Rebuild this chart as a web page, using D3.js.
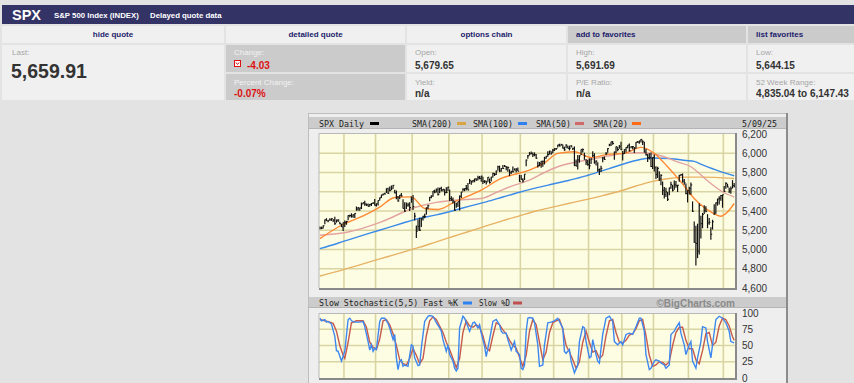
<!DOCTYPE html>
<html>
<head>
<meta charset="utf-8">
<title>SPX Daily</title>
<script src="https://d3js.org/d3.v7.min.js"></script>
<style>
	body {margin: 0; background: #e3e3e3; overflow: hidden;}
	svg {display: block;}
	.mono {font-family: "DejaVu Sans Mono", monospace; font-size: 8.3px; fill: #222;}
	.arial {font-family: "Liberation Sans", Arial, sans-serif;}
</style>
</head>
<body>
<div id="chart"></div>
<script>
// ---- quote header data ----
var symbol = "SPX";
var indexName = "S&P 500 Index (INDEX)";
var delayNote = "Delayed quote data";
var tabNames = ["hide quote", "detailed quote", "options chain", "add to favorites", "list favorites"];
var lastLabel = "Last:";
var lastValue = "5,659.91";
var fieldLabels = ["Change:", "Percent Change:", "Open:", "Yield:", "High:", "P/E Ratio:", "Low:", "52 Week Range:"];
var fieldValues = ["-4.03", "-0.07%", "5,679.65", "n/a", "5,691.69", "n/a", "5,644.15", "4,835.04 to 6,147.43"];

// ---- chart data: trading days per month, May 10 2024 .. May 9 2025 ----
var months = ["May", "Jun", "Jul", "Aug", "Sep", "Oct", "Nov", "Dec", "Jan", "Feb", "Mar", "Apr", "May"];
var monthDays = [15, 19, 22, 22, 20, 23, 20, 21, 20, 19, 21, 21, 7];
var lastDate = "5/09/25";

var closes = [
	5223,5221,5247,5308,5297,5303,5308,5321,5307,5268,5305,5306,5267,5235,5278,
	5283,5291,5354,5353,5347,5361,5375,5421,5434,5432,5473,5487,5473,5465,5448,5469,5478,5483,5460,
	5475,5509,5537,5567,5573,5577,5634,5585,5615,5631,5667,5588,5545,5505,5564,5556,5427,5399,5459,5464,5436,5522,
	5447,5347,5186,5240,5200,5319,5344,5344,5434,5455,5543,5554,5608,5597,5621,5571,5635,5617,5626,5592,5592,5648,
	5529,5520,5503,5408,5471,5496,5554,5596,5626,5633,5635,5618,5714,5703,5719,5733,5722,5745,5738,5762,
	5709,5710,5700,5751,5696,5751,5792,5780,5815,5860,5815,5842,5841,5865,5854,5851,5797,5810,5808,5824,5833,5814,5705,
	5729,5713,5783,5929,5973,5996,6001,5984,5985,5949,5871,5894,5917,5917,5949,5969,5987,6022,5999,6032,
	6047,6050,6086,6075,6090,6053,6035,6084,6051,6051,6074,6051,5872,5867,5931,5974,6040,6038,5971,5907,5882,
	5869,5942,5975,5909,5918,5827,5836,5843,5950,5937,5997,6049,6086,6119,6101,6012,6068,6039,6071,6041,
	5995,6038,6061,6084,6026,6066,6068,6052,6115,6115,6130,6144,6118,6013,5983,5955,5956,5862,5955,
	5850,5778,5843,5739,5770,5615,5572,5599,5522,5639,5675,5615,5675,5663,5668,5768,5777,5712,5693,5581,5612,
	5633,5671,5397,5074,5062,4983,5457,5268,5363,5406,5397,5276,5283,5158,5288,5376,5485,5525,5529,5561,5569,
	5604,5687,5650,5607,5631,5664,5660
];
var highs = [
	5239,5238,5250,5311,5325,5305,5325,5324,5315,5341,5311,5313,5289,5268,5280,
	5302,5298,5355,5362,5376,5366,5376,5447,5441,5432,5488,5488,5506,5478,5479,5472,5483,5490,5524,
	5479,5509,5539,5570,5583,5590,5635,5642,5655,5666,5669,5622,5614,5557,5567,5586,5523,5492,5488,5487,5490,5551,
	5567,5383,5250,5312,5330,5328,5350,5371,5436,5464,5545,5564,5608,5620,5633,5643,5642,5651,5628,5627,5646,5651,
	5623,5552,5540,5502,5485,5497,5560,5600,5637,5637,5671,5690,5734,5716,5723,5736,5741,5767,5764,5765,
	5757,5720,5715,5753,5739,5757,5797,5795,5822,5871,5871,5846,5879,5878,5867,5863,5834,5817,5862,5843,5847,5851,5776,
	5773,5741,5783,5936,5983,6012,6018,6009,6009,5993,5915,5909,5920,5921,5963,5972,6020,6026,6020,6044,
	6053,6052,6089,6099,6099,6091,6068,6093,6079,6079,6085,6057,6071,5935,5982,5978,6040,6049,6006,5940,5929,
	5949,5949,6022,6001,5928,5906,5838,5871,5961,5965,6014,6051,6100,6119,6128,6017,6070,6065,6087,6120,
	6023,6042,6062,6084,6101,6074,6076,6064,6116,6127,6130,6147,6134,6119,6044,5992,6000,6009,5959,
	5987,5865,5860,5812,5783,5706,5649,5642,5597,5645,5703,5669,5716,5711,5672,5776,5784,5790,5732,5685,5615,
	5651,5696,5500,5292,5246,5268,5481,5350,5381,5459,5450,5367,5328,5232,5309,5470,5489,5528,5553,5565,5570,
	5659,5700,5683,5642,5655,5721,5692
];
var lows = [
	5209,5211,5218,5263,5296,5283,5302,5298,5287,5256,5279,5286,5262,5234,5191,
	5234,5257,5303,5335,5331,5331,5327,5403,5403,5403,5420,5471,5455,5452,5447,5446,5452,5474,5458,
	5446,5458,5509,5535,5562,5574,5586,5576,5603,5615,5632,5585,5523,5497,5523,5551,5426,5390,5422,5445,5400,5486,
	5411,5302,5119,5194,5193,5233,5302,5325,5362,5418,5502,5532,5547,5585,5592,5561,5585,5602,5603,5561,5585,5604,
	5505,5504,5479,5403,5434,5442,5406,5535,5602,5604,5614,5615,5681,5674,5695,5699,5715,5720,5730,5703,
	5681,5690,5675,5703,5685,5707,5749,5764,5775,5820,5804,5808,5840,5857,5824,5809,5762,5784,5800,5823,5800,5812,5703,
	5724,5697,5722,5864,5944,5976,5986,5960,5969,5942,5853,5866,5850,5860,5884,5943,5963,5986,5985,6003,
	6023,6034,6061,6071,6079,6049,6025,6052,6051,6029,6060,6035,5867,5866,5832,5902,5983,6007,5932,5879,5869,
	5835,5889,5961,5890,5874,5809,5773,5805,5907,5931,5978,6006,6074,6075,6089,5932,6000,6021,6047,6031,
	5924,5991,6008,6052,6019,6051,6042,6003,6050,6108,6100,6112,6086,6009,5977,5908,5934,5858,5837,
	5810,5733,5743,5711,5667,5565,5529,5546,5504,5563,5631,5603,5621,5641,5597,5705,5765,5695,5674,5573,5489,
	5571,5570,5390,5069,4835,4910,4949,5115,5221,5368,5387,5221,5256,5101,5207,5359,5372,5456,5468,5506,5434,
	5598,5630,5646,5586,5579,5635,5644
];

// moving averages: [trading day, value]
var sma200 = [[0,4724],[10,4770],[20,4820],[30,4872],[40,4922],[50,4972],[60,5024],[70,5080],[80,5135],[90,5190],[100,5245],[110,5300],[120,5350],[130,5400],[140,5440],[150,5480],[160,5518],[170,5560],[180,5605],[190,5660],[200,5708],[210,5738],[220,5752],[230,5752],[240,5747],[249,5738]];
var sma100 = [[0,5009],[10,5060],[20,5115],[30,5170],[40,5222],[50,5275],[57,5311],[70,5360],[81,5408],[90,5450],[100,5495],[110,5545],[120,5595],[130,5640],[140,5680],[150,5720],[160,5765],[170,5820],[180,5875],[190,5925],[200,5950],[210,5945],[220,5925],[225,5915],[230,5880],[240,5815],[249,5766]];
var sma50 = [[0,5148],[17,5182],[37,5287],[57,5436],[70,5490],[81,5512],[97,5530],[107,5600],[117,5669],[126,5721],[135,5800],[143,5860],[153,5905],[163,5936],[173,5970],[183,5999],[193,6005],[200,5995],[207,5964],[215,5910],[223,5860],[230,5760],[235,5686],[242,5600],[249,5545]];
var sma20 = [[0,5113],[13,5252],[27,5356],[36,5440],[45,5540],[55,5547],[63,5426],[71,5416],[81,5495],[97,5617],[109,5738],[119,5790],[126,5825],[135,5900],[143,5999],[153,6016],[163,5957],[173,5988],[183,5999],[193,6061],[201,5999],[209,5860],[217,5703],[225,5530],[235,5391],[241,5346],[245,5390],[249,5478]];

// slow stochastic (5,5)
var stochK = [[0,92],[1,88],[3,90],[4,86],[5,87],[7,83],[9,64],[10,42],[11,41],[13,26],[15,41],[17,90],[18,92],[19,88],[21,86],[24,86],[26,87],[27,79],[29,56],[30,43],[31,51],[32,41],[33,46],[34,44],[36,87],[37,92],[39,92],[41,84],[42,77],[44,59],[45,67],[46,31],[47,13],[48,26],[49,28],[50,18],[51,20],[53,18],[55,51],[56,49],[57,31],[59,19],[60,20],[61,46],[63,87],[65,95],[66,96],[68,95],[70,85],[72,77],[73,72],[74,59],[76,41],[77,51],[78,36],[80,26],[81,15],[82,11],[83,15],[84,77],[86,95],[87,92],[89,79],[90,72],[92,85],[93,86],[95,77],[96,82],[97,69],[99,49],[100,33],[101,46],[102,59],[104,87],[106,90],[108,82],[109,72],[110,69],[112,69],[113,59],[115,43],[117,56],[118,41],[120,36],[121,15],[122,13],[123,20],[124,72],[125,92],[126,93],[128,92],[129,85],[131,51],[132,18],[134,20],[135,51],[137,85],[139,86],[141,88],[143,92],[144,87],[146,77],[147,41],[148,38],[150,44],[151,26],[153,8],[155,20],[156,56],[158,79],[159,77],[160,56],[162,31],[163,33],[164,59],[166,36],[167,26],[168,23],[170,67],[172,92],[174,95],[176,87],[177,56],[179,51],[181,56],[182,51],[184,67],[186,69],[188,67],[190,79],[192,92],[193,92],[195,72],[196,36],[198,13],[199,15],[201,26],[202,28],[204,26],[205,23],[207,20],[208,15],[210,20],[211,67],[213,72],[214,77],[216,85],[217,69],[219,51],[220,36],[222,51],[223,56],[224,26],[226,15],[227,31],[229,56],[230,79],[232,77],[233,56],[235,31],[236,51],[238,90],[240,95],[242,92],[244,85],[246,72],[247,56],[249,54]];
var stochD = [[0,90],[3,88],[6,86],[8,84],[10,72],[12,50],[14,35],[15,30],[17,55],[19,85],[22,88],[26,88],[28,78],[30,55],[32,47],[34,44],[36,60],[38,88],[40,90],[42,82],[44,68],[46,50],[48,28],[50,22],[52,20],[54,30],[56,45],[58,35],[60,22],[62,30],[64,65],[66,88],[68,94],[70,90],[72,80],[74,70],[76,55],[78,44],[80,30],[82,16],[84,30],[86,70],[88,88],[90,80],[92,78],[94,82],[96,78],[98,65],[100,46],[102,42],[104,65],[106,85],[108,82],[110,74],[112,68],[114,58],[116,50],[118,46],[120,32],[122,18],[124,35],[126,72],[128,90],[130,82],[132,55],[134,28],[136,40],[138,70],[140,85],[142,88],[144,90],[146,75],[148,50],[150,40],[152,28],[154,15],[156,25],[158,55],[160,72],[162,55],[164,40],[166,42],[168,30],[170,35],[172,65],[174,88],[176,90],[178,70],[180,55],[182,54],[184,58],[186,66],[188,68],[190,76],[192,88],[194,90],[196,65],[198,35],[200,18],[202,20],[204,25],[206,24],[208,20],[210,25],[212,50],[214,70],[216,78],[218,78],[220,58],[222,45],[224,45],[226,28],[228,22],[230,42],[232,68],[234,70],[236,50],[238,55],[240,80],[242,92],[244,90],[246,80],[248,64],[249,58]];

var priceTicks = [6200, 6000, 5800, 5600, 5400, 5200, 5000, 4800, 4600];
var stochTicks = [100, 75, 50, 25, 0];

// ---------------------------------------------------------------
var svg = d3.select("#chart").append("svg")
	.attr("width", 854)
	.attr("height", 383);

svg.append("rect").attr("width", 854).attr("height", 383).style("fill", "#e3e3e3");

// title bar
svg.append("rect").attr("x", 2).attr("y", 5).attr("width", 852).attr("height", 19).style("fill", "#333366");
svg.append("text").attr("class", "arial").attr("x", 12).attr("y", 19.5)
	.style("font-size", "14.5px").style("font-weight", "bold").style("fill", "#fff").text(symbol);
svg.append("text").attr("class", "arial").attr("x", 54).attr("y", 17.5)
	.style("font-size", "7.8px").style("font-weight", "bold").style("fill", "#fff").text(indexName);
svg.append("text").attr("class", "arial").attr("x", 150).attr("y", 17.5)
	.style("font-size", "7.8px").style("font-weight", "bold").style("fill", "#fff").text(delayNote);

// tab row + quote cells
var cellX = [2, 226, 407, 568, 748];
var cellW = [222, 179, 159, 178, 106];
tabNames.forEach(function(t, i) {
	svg.append("rect").attr("x", cellX[i]).attr("y", 26).attr("width", cellW[i]).attr("height", 17)
		.style("fill", i < 3 ? "#f0f0f0" : "#cbcbcb");
	svg.append("text").attr("class", "arial")
		.attr("x", i < 3 ? cellX[i] + cellW[i] / 2 : cellX[i] + 8)
		.attr("y", 36.5)
		.attr("text-anchor", i < 3 ? "middle" : "start")
		.style("font-size", "8px").style("font-weight", "bold").style("fill", "#1c1c6b")
		.text(t);
});

svg.append("rect").attr("x", 2).attr("y", 45).attr("width", 222).attr("height", 55).style("fill", "#f0f0f0");
svg.append("text").attr("class", "arial").attr("x", 12).attr("y", 55)
	.style("font-size", "8px").style("fill", "#a6a6a6").text(lastLabel);
svg.append("text").attr("class", "arial").attr("x", 11).attr("y", 78)
	.style("font-size", "19.5px").style("font-weight", "bold").style("fill", "#333").text(lastValue);

fieldLabels.forEach(function(lab, k) {
	var col = Math.floor(k / 2) + 1, row = k % 2;
	var cy = row == 0 ? 45 : 74, ch = row == 0 ? 27 : 26;
	svg.append("rect").attr("x", cellX[col]).attr("y", cy).attr("width", cellW[col]).attr("height", ch)
		.style("fill", col == 1 ? "#cbcbcb" : "#f0f0f0");
	var tx = cellX[col] + 8;
	svg.append("text").attr("class", "arial").attr("x", tx).attr("y", row == 0 ? 55 : 84.5)
		.style("font-size", "8px").style("fill", col == 1 ? "#f2f2f2" : "#a6a6a6").text(lab);
	var isRed = col == 1;
	var vx = tx;
	if (k == 0) {
		// little down-arrow box
		svg.append("rect").attr("x", tx + 0.5).attr("y", 60.5).attr("width", 6).attr("height", 6)
			.style("fill", "#fff").style("stroke", "#dd1111").style("stroke-width", 1);
		svg.append("path").attr("d", "M" + (tx + 2) + ",62.5 L" + (tx + 3.5) + ",64.5 L" + (tx + 5) + ",62.5")
			.style("fill", "none").style("stroke", "#dd1111").style("stroke-width", 1);
		vx = tx + 13;
	}
	svg.append("text").attr("class", "arial").attr("x", vx).attr("y", row == 0 ? 68.5 : 97)
		.style("font-size", "10px").style("font-weight", "bold")
		.style("fill", isRed ? "#dd1111" : "#333").text(fieldValues[k]);
});

// ---- chart panel ----
var left = 319, right = 735;
var x = d3.scaleLinear().domain([-0.5, closes.length - 0.5]).range([left, right]);
var y = d3.scaleLinear().domain([4600, 6200]).range([288, 134]);
var ys = d3.scaleLinear().domain([0, 100]).range([378, 313]);

svg.append("rect").attr("x", 308.5).attr("y", 113.5).attr("width", 478).attr("height", 280)
	.style("fill", "#eeeeee").style("stroke", "#bdbdbd");
svg.append("line").attr("x1", 787).attr("x2", 787).attr("y1", 113).attr("y2", 383)
	.style("stroke", "#8c8c8c").style("stroke-width", 2);

// header bands
[[117, 12], [297, 11]].forEach(function(b) {
	svg.append("rect").attr("x", 309).attr("y", b[0]).attr("width", 477).attr("height", b[1]).style("fill", "#cccccc");
	svg.append("line").attr("x1", 309).attr("x2", 786).attr("y1", b[0] + b[1] - 0.5).attr("y2", b[0] + b[1] - 0.5)
		.style("stroke", "#b5b5b5");
});

function legendText(tx, ty, t, len) {
	var el = svg.append("text").attr("class", "mono").attr("x", tx).attr("y", ty).text(t);
	if (len) el.attr("textLength", len).attr("lengthAdjust", "spacingAndGlyphs");
}
function swatch(sx, sy, c) {
	svg.append("rect").attr("x", sx).attr("y", sy).attr("width", 9).attr("height", 3).style("fill", c);
}
legendText(319, 126.5, "SPX Daily");  swatch(370, 122, "#000");
legendText(412, 126.5, "SMA(200)");   swatch(457, 122, "#d9a441");
legendText(473, 126.5, "SMA(100)");   swatch(518, 122, "#2f80f0");
legendText(536, 126.5, "SMA(50)");    swatch(575, 122, "#d06a6a");
legendText(593, 126.5, "SMA(20)");    swatch(632, 122, "#ff6a1a");
legendText(742, 126.5, lastDate);

legendText(319, 306, "Slow Stochastic(5,5) Fast %K", 139);  swatch(463, 301.5, "#2f80f0");
legendText(479, 306, "Slow %D", 31);                        swatch(513, 301.5, "#c0504d");
svg.append("text").attr("class", "arial").attr("x", 735).attr("y", 306.5).attr("text-anchor", "end")
	.style("font-size", "10px").style("font-weight", "bold").style("fill", "#8a8a8a").text("\u00a9BigCharts.com");

// month grid positions
var starts = [];
d3.cumsum(monthDays).forEach(function(c, i) { if (i < monthDays.length - 1) starts.push(c); });

function plotArea(top, bottom, hTicks, scale) {
	svg.append("rect").attr("x", left).attr("y", top).attr("width", right - left).attr("height", bottom - top)
		.style("fill", "#fdfde4");
	hTicks.forEach(function(t) {
		svg.append("line").attr("x1", left).attr("x2", right).attr("y1", scale(t)).attr("y2", scale(t))
			.style("stroke", "#d9d5a3").style("stroke-width", 1.6);
	});
	starts.forEach(function(s) {
		svg.append("line").attr("x1", x(s - 0.5)).attr("x2", x(s - 0.5)).attr("y1", top).attr("y2", bottom)
			.style("stroke", "#d9d5a3").style("stroke-width", 1.6);
	});
}
function plotBorder(top, bottom) {
	svg.append("path").attr("d", "M" + left + "," + (bottom) + "V" + (top + 0.5) + "H" + right)
		.style("fill", "none").style("stroke", "#b8b8b8");
	svg.append("path").attr("d", "M" + left + "," + (bottom + 1) + "H" + (right + 1) + "V" + top)
		.style("fill", "none").style("stroke", "#8a8a8a").style("stroke-width", 2);
}

plotArea(133, 288, priceTicks.slice(1, -1), y);
plotArea(313, 378, [75, 50, 25], ys);

// moving averages
var smaLine = d3.line().x(function(d) { return x(d[0]); }).y(function(d) { return y(d[1]); })
	.curve(d3.curveMonotoneX);
[[sma200, "#e7b264"], [sma100, "#3a8ae8"], [sma50, "#e3a3a0"], [sma20, "#ff8833"]].forEach(function(s) {
	svg.append("path").datum(s[0]).attr("d", smaLine)
		.style("fill", "none").style("stroke", s[1]).style("stroke-width", 1.4);
});

// daily bars
closes.forEach(function(c, i) {
	var bx = x(i);
	svg.append("line").attr("x1", bx).attr("x2", bx).attr("y1", y(highs[i])).attr("y2", y(lows[i]))
		.style("stroke", "#111").style("stroke-width", 1.2);
	svg.append("line").attr("x1", bx).attr("x2", bx + 1.3).attr("y1", y(c)).attr("y2", y(c))
		.style("stroke", "#111").style("stroke-width", 1);
});

// stochastic
var stLine = d3.line().x(function(d) { return x(d[0]); }).y(function(d) { return ys(d[1]); });
svg.append("path").datum(stochD).attr("d", stLine)
	.style("fill", "none").style("stroke", "#c65a4c").style("stroke-width", 1.4);
svg.append("path").datum(stochK).attr("d", stLine)
	.style("fill", "none").style("stroke", "#3d88f0").style("stroke-width", 1.4);

plotBorder(133, 288);
plotBorder(313, 378);

// right-hand axes
function rightAxis(scale, ticks, fmt, size) {
	svg.append("g").attr("transform", "translate(738,0)")
		.attr("font-family", "DejaVu Sans, Verdana, sans-serif")
		.attr("font-size", size)
		.style("color", "#333")
		.call(d3.axisRight(scale).tickValues(ticks).tickFormat(fmt).tickSize(0).tickPadding(4))
		.call(function(g) { g.select(".domain").remove(); });
}
rightAxis(y, priceTicks, d3.format(","), 8.5);
rightAxis(ys, stochTicks, d3.format("d"), 8.2);
</script>
</body>
</html>
